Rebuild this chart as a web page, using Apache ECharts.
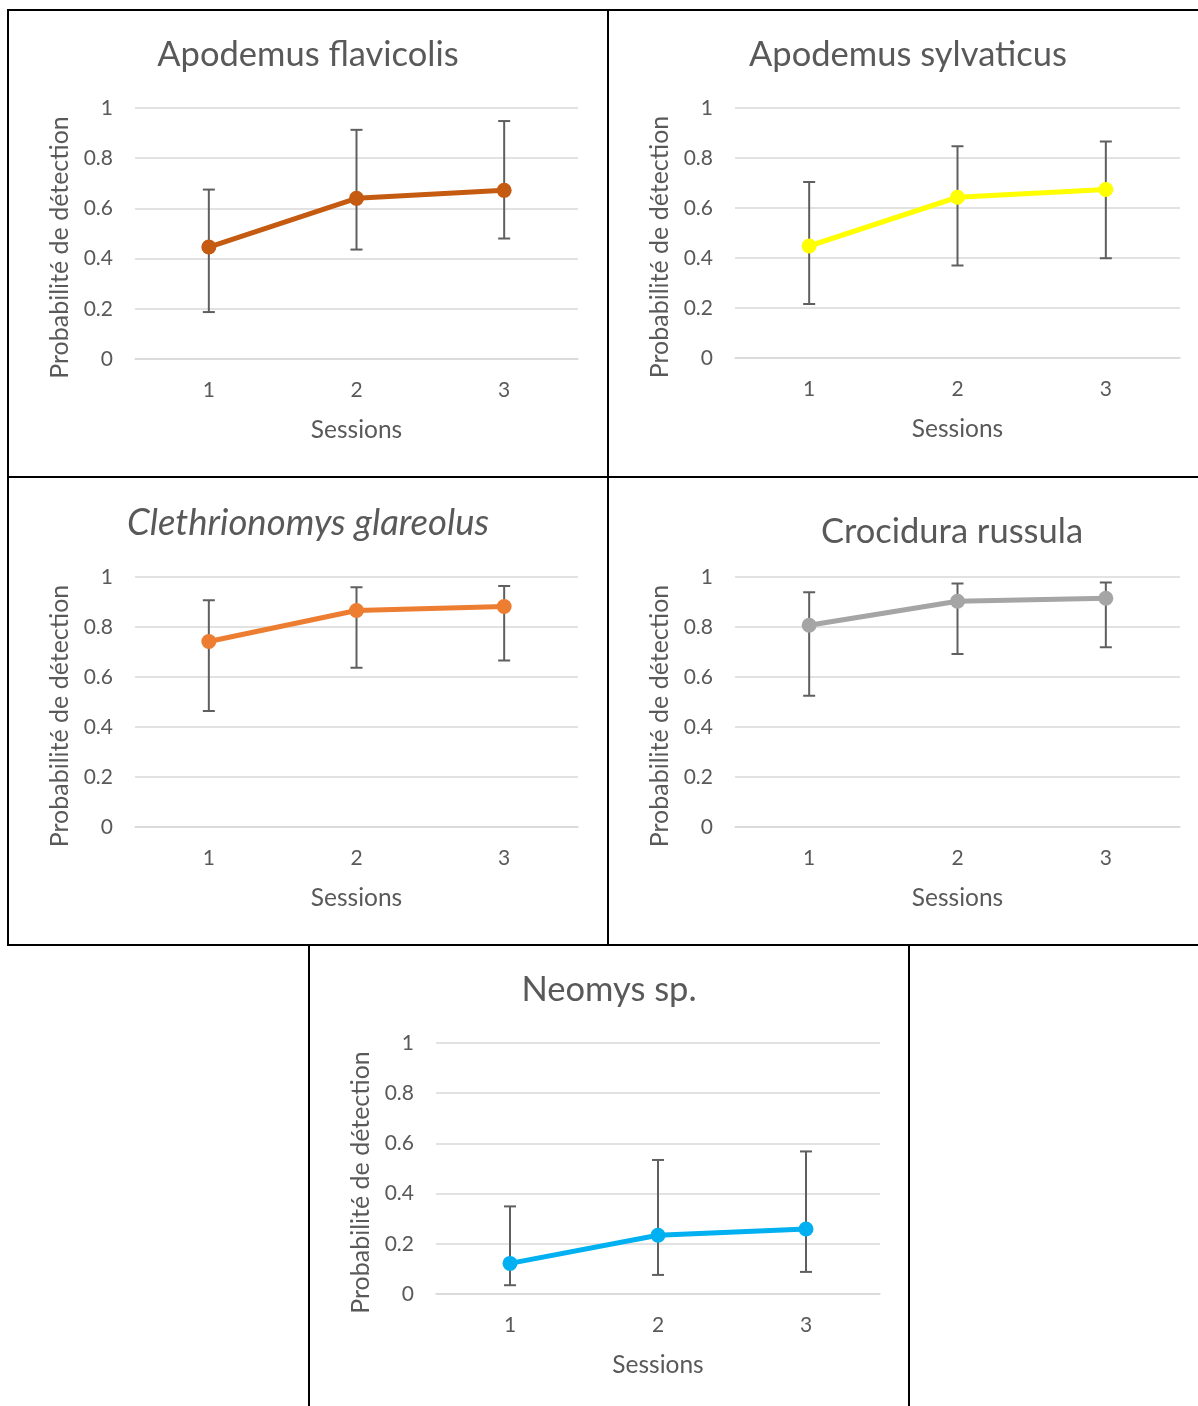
<!DOCTYPE html>
<html><head><meta charset="utf-8">
<script src="https://cdn.jsdelivr.net/npm/echarts@6/dist/echarts.min.js"></script>
<style>html,body{margin:0;padding:0;background:#fff;}#c{width:1198px;height:1406px;}</style>
</head><body><div id="c"></div>
<script>
// ---- data ----
const sessions = ['1', '2', '3'];
const speciesNames = ['Apodemus flavicolis', 'Apodemus sylvaticus', 'Clethrionomys glareolus', 'Crocidura russula', 'Neomys sp.'];
const yAxisTitle = 'Probabilité de détection';
const xAxisTitle = 'Sessions';

const flavicolisMean = [0.446, 0.640, 0.672];
const flavicolisLow  = [0.187, 0.436, 0.480];
const flavicolisHigh = [0.675, 0.913, 0.948];

const sylvaticusMean = [0.448, 0.643, 0.674];
const sylvaticusLow  = [0.216, 0.370, 0.399];
const sylvaticusHigh = [0.704, 0.847, 0.866];

const glareolusMean = [0.742, 0.866, 0.882];
const glareolusLow  = [0.464, 0.637, 0.666];
const glareolusHigh = [0.907, 0.959, 0.964];

const russulaMean = [0.807, 0.903, 0.915];
const russulaLow  = [0.525, 0.692, 0.719];
const russulaHigh = [0.939, 0.974, 0.978];

const neomysMean = [0.122, 0.234, 0.259];
const neomysLow  = [0.035, 0.076, 0.088];
const neomysHigh = [0.349, 0.534, 0.568];

const means = [flavicolisMean, sylvaticusMean, glareolusMean, russulaMean, neomysMean];
const lows  = [flavicolisLow, sylvaticusLow, glareolusLow, russulaLow, neomysLow];
const highs = [flavicolisHigh, sylvaticusHigh, glareolusHigh, russulaHigh, neomysHigh];

// ---- layout / style ----
const FONT = 'Lato';
const TXT = '#595959';
const layout = [
  {grid:{left:135, top:108, width:443, height:251}, box:[8,10,600,467],  title:[308,55],  titleSize:34.5, color:'#C55A11', italic:false},
  {grid:{left:735, top:108, width:445, height:250}, box:[608,10,600,467], title:[908,55],  titleSize:34.5, color:'#FFFF00', italic:false},
  {grid:{left:135, top:577, width:443, height:250}, box:[8,477,600,468], title:[308,523], titleSize:36.5, color:'#ED7D31', italic:true},
  {grid:{left:735, top:577, width:445, height:250}, box:[608,477,600,468], title:[952,532], titleSize:34.5, color:'#A5A5A5', italic:false},
  {grid:{left:436, top:1043, width:444, height:251}, box:[309,945,600,470], title:[609,990], titleSize:34.5, color:'#00B0F0', italic:false}
];

const grids = [], xAxes = [], yAxes = [], series = [], graphics = [];
layout.forEach((L, i) => {
  grids.push(Object.assign({containLabel:false}, L.grid));
  xAxes.push({
    type:'category', gridIndex:i, data:sessions, boundaryGap:true,
    axisLine:{show:true, lineStyle:{color:'#D9D9D9', width:1.5}},
    axisTick:{show:false},
    axisLabel:{color:TXT, fontFamily:FONT, fontSize:21, margin:21},
    name:xAxisTitle, nameLocation:'middle', nameGap:59,
    nameTextStyle:{color:TXT, fontFamily:FONT, fontSize:24.5}
  });
  yAxes.push({
    type:'value', gridIndex:i, min:0, max:1, interval:0.2,
    axisLine:{show:false}, axisTick:{show:false},
    splitLine:{lineStyle:{color:'#D9D9D9', width:1.5}},
    axisLabel:{color:TXT, fontFamily:FONT, fontSize:21, margin:22},
    name:yAxisTitle, nameLocation:'middle', nameGap:63,
    nameTextStyle:{color:TXT, fontFamily:FONT, fontSize:25, padding:[0,28,0,0]}
  });
  series.push({
    type:'custom', xAxisIndex:i, yAxisIndex:i, z:2,
    data: sessions.map((s, k) => [k, lows[i][k], highs[i][k]]),
    encode:{x:0, y:[1,2]},
    renderItem:function(params, api){
      const x = api.value(0);
      const pLo = api.coord([x, api.value(1)]);
      const pHi = api.coord([x, api.value(2)]);
      const hw = 6;
      const st = {stroke:'#5F5F5F', lineWidth:2};
      return {type:'group', children:[
        {type:'line', shape:{x1:pLo[0], y1:pLo[1], x2:pHi[0], y2:pHi[1]}, style:st},
        {type:'line', shape:{x1:pLo[0]-hw, y1:pLo[1], x2:pLo[0]+hw, y2:pLo[1]}, style:st},
        {type:'line', shape:{x1:pHi[0]-hw, y1:pHi[1], x2:pHi[0]+hw, y2:pHi[1]}, style:st}
      ]};
    }
  });
  series.push({
    type:'line', xAxisIndex:i, yAxisIndex:i, z:3,
    data: means[i], symbol:'circle', symbolSize:15, showSymbol:true,
    lineStyle:{color:L.color, width:5},
    itemStyle:{color:L.color, borderWidth:0},
    animation:false
  });
  graphics.push({
    type:'rect', shape:{x:L.box[0], y:L.box[1], width:L.box[2], height:L.box[3]},
    style:{fill:'none', stroke:'#000', lineWidth:2}, z:100
  });
  graphics.push({
    type:'text', x:L.title[0], y:L.title[1],
    style:{text:speciesNames[i], fill:TXT, fontFamily:FONT, fontSize:L.titleSize,
           fontStyle:L.italic ? 'italic' : 'normal',
           align:'center', verticalAlign:'middle', textAlign:'center', textVerticalAlign:'middle'}
  });
});

const chart = echarts.init(document.getElementById('c'));
chart.setOption({
  animation:false,
  backgroundColor:'#ffffff',
  grid:grids, xAxis:xAxes, yAxis:yAxes, series:series, graphic:graphics
});
</script></body></html>
